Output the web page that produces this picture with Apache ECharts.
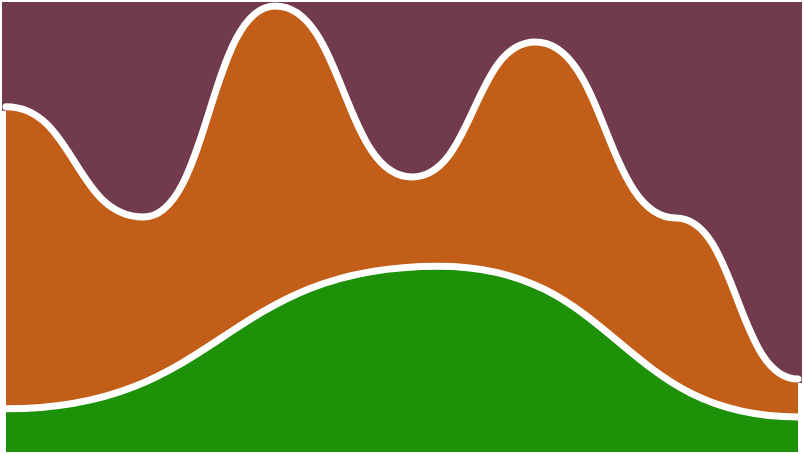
<!DOCTYPE html>
<html>
<head>
<meta charset="utf-8">
<script src="https://cdn.jsdelivr.net/npm/echarts@6/dist/echarts.min.js"></script>
<style>html,body{margin:0;padding:0;background:#fff;}#c{width:804px;height:454px;}</style>
</head>
<body>
<div id="c"></div>
<script>
// Upper (orange) band: top-edge values at their x positions
var orangeX = [0, 2.08, 4.08, 6.15, 8.02, 10.15, 12];
var orangeTop = [76.7, 52.2, 99.1, 61.1, 91.1, 52.0, 16.2];
// Lower (green) band
var greenX = [0, 6.55, 12];
var greenTop = [9.6, 41.3, 7.8];
var xMin = 0, xMax = 12, yMax = 99.1;

function bumpPath(api, xs, ys) {
  var pts = xs.map(function (x, i) { return api.coord([x, ys[i]]); });
  var d = 'M' + pts[0][0] + ' ' + pts[0][1];
  for (var i = 1; i < pts.length; i++) {
    var mx = (pts[i - 1][0] + pts[i][0]) / 2;
    d += ' C' + mx + ' ' + pts[i - 1][1] + ' ' + mx + ' ' + pts[i][1] + ' ' + pts[i][0] + ' ' + pts[i][1];
  }
  return { d: d, first: pts[0], last: pts[pts.length - 1] };
}

function bandRender(xs, ys, fillColor) {
  return function (params, api) {
    var p = bumpPath(api, xs, ys);
    var base = api.coord([xMin, 0])[1];
    var area = p.d + ' L' + p.last[0] + ' ' + base + ' L' + p.first[0] + ' ' + base + ' Z';
    return {
      type: 'group',
      children: [
        { type: 'path', shape: { pathData: area }, style: { fill: fillColor, stroke: 'none' } },
        { type: 'path', shape: { pathData: p.d }, style: { fill: 'none', stroke: '#ffffff', lineWidth: 7, lineCap: 'round' } }
      ]
    };
  };
}

function topRender(xs, ys, color) {
  return function (params, api) {
    var p = bumpPath(api, xs, ys);
    var top = api.coord([xMin, yMax])[1];
    var area = p.d + ' L' + p.last[0] + ' ' + top + ' L' + p.first[0] + ' ' + top + ' Z';
    return { type: 'path', shape: { pathData: area }, style: { fill: color, stroke: color, lineWidth: 8, lineJoin: 'miter' } };
  };
}

var chart = echarts.init(document.getElementById('c'));
chart.setOption({
  animation: false,
  backgroundColor: '#ffffff',
  grid: { left: 6, right: 6, top: 6, bottom: 2 },
  xAxis: { type: 'value', min: xMin, max: xMax, show: false },
  yAxis: { type: 'value', min: 0, max: yMax, show: false },
  series: [
    { type: 'custom', data: [0], z: 1, clip: false, renderItem: topRender(orangeX, orangeTop, '#723b4d') },
    { type: 'custom', data: [0], z: 2, clip: false, renderItem: bandRender(orangeX, orangeTop, '#c25e18') },
    { type: 'custom', data: [0], z: 3, clip: false, renderItem: bandRender(greenX, greenTop, '#1d9108') }
  ]
});
</script>
</body>
</html>
